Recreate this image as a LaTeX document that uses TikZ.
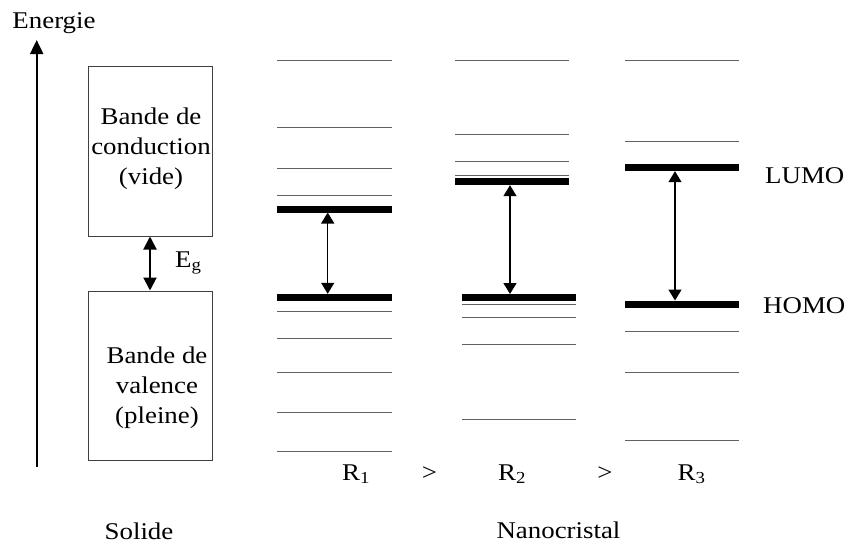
\documentclass[tikz,border=0pt]{standalone}
\usepackage{fontspec}
\setmainfont{Liberation Serif}[FakeStretch=1.12]
\usetikzlibrary{arrows.meta}
\begin{document}
\begin{tikzpicture}[x=1pt,y=-1pt,
  every node/.style={inner sep=0pt, font=\fontsize{24}{30}\selectfont},
  level/.style={draw=black!62, line width=1pt},
  frontier/.style={draw=black, line width=7pt},
  bandbox/.style={draw=black!75, line width=1pt, minimum width=124pt},
  axis/.style={-{Triangle[width=13pt,length=14pt]}, line width=2pt},
  egarrow/.style={{Triangle[width=13pt,length=13pt]}-{Triangle[width=13pt,length=13pt]}, line width=2pt},
  gaparrow/.style={{Triangle[width=13pt,length=11pt]}-{Triangle[width=13pt,length=11pt]}, line width=1.4pt, shorten >=3.5pt, shorten <=3.5pt}]
\useasboundingbox[fill=white] (0,0) rectangle (855,544);

% energy axis
\coordinate (axisfoot) at (36.7,467);
\coordinate (axistop) at (36.7,40);
\draw[axis] (axisfoot) -- (axistop);
\node[anchor=base] (energie) at (54,28) {Energie};

% bulk solid: conduction and valence bands
\node[bandbox, minimum height=170pt] (cb) at (150,151) {};
\node[bandbox, minimum height=169pt] (vb) at (150,375.5) {};
\node[align=center] (cbtext) at (151,149) {Bande de\\conduction\\(vide)};
\node[align=center] (vbtext) at (157,387.4) {Bande de\\valence\\(pleine)};
\draw[egarrow] (cb.south) -- (vb.north);
\node[anchor=base west] (eg) at (175,267) {E\textsubscript{g}};
\node[anchor=base] (solide) at (139,539) {Solide};

% nanocrystal R1
\foreach \y in {60,127,168,195,311,338,372,412,451}
  \draw[level] (277,\y) -- (392,\y);
\draw[frontier] (277,209) -- (392,209);
\draw[frontier] (277,297.3) -- (392,297.3);
\coordinate (lumo1) at (327.7,209);
\coordinate (homo1) at (327.7,297.3);
\draw[gaparrow] (lumo1) -- (homo1);

% nanocrystal R2
\foreach \y in {60,134,161,175}
  \draw[level] (455,\y) -- (569,\y);
\foreach \y in {304,317,344,419}
  \draw[level] (462,\y) -- (576,\y);
\draw[frontier] (455,181.7) -- (569,181.7);
\draw[frontier] (462,297.5) -- (576,297.5);
\coordinate (lumo2) at (510,181.7);
\coordinate (homo2) at (510,297.5);
\draw[gaparrow] (lumo2) -- (homo2);

% nanocrystal R3
\foreach \y in {60,141,331,372,440}
  \draw[level] (625,\y) -- (739,\y);
\draw[frontier] (625,167.7) -- (739,167.7);
\draw[frontier] (625,304) -- (739,304);
\coordinate (lumo3) at (675,167.7);
\coordinate (homo3) at (675,304);
\draw[gaparrow] (lumo3) -- (homo3);
\node[anchor=base west] (lumo) at (765,183) {LUMO};
\node[anchor=base west] (homo) at (763,313) {HOMO};

% radii
\node[anchor=base] (r1) at (356,480) {R\textsubscript{1}};
\node[anchor=base] (gt1) at (429.5,480) {>};
\node[anchor=base] (r2) at (512,480) {R\textsubscript{2}};
\node[anchor=base] (gt2) at (605,480) {>};
\node[anchor=base] (r3) at (691.5,480) {R\textsubscript{3}};
\node[anchor=base] (nano) at (558.5,538) {Nanocristal};
\end{tikzpicture}
\end{document}
